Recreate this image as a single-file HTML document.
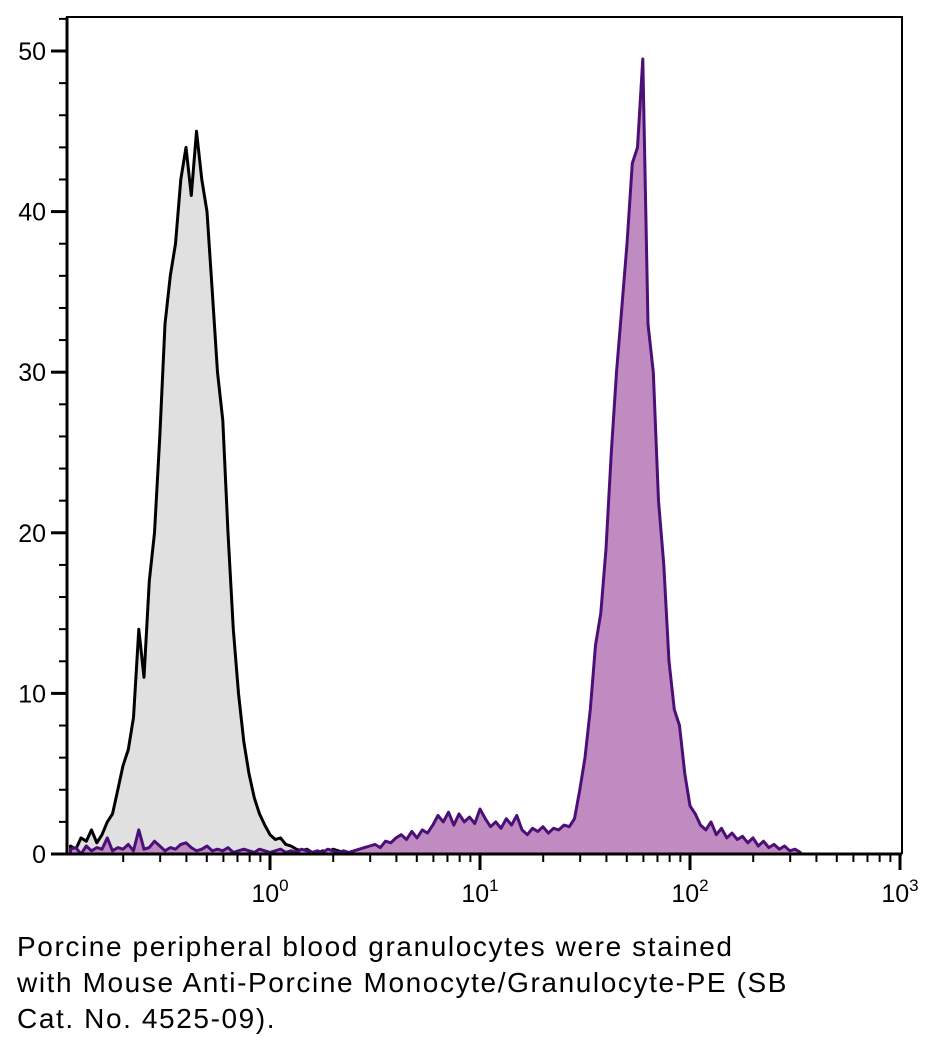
<!DOCTYPE html>
<html><head><meta charset="utf-8"><style>
body{margin:0;background:#fff;width:930px;height:1048px;overflow:hidden;font-family:"Liberation Sans",sans-serif}
#cap{position:absolute;left:17px;top:929px;font-size:28px;letter-spacing:1.6px;line-height:36px;color:#000}
</style></head><body>
<svg id="chart" width="930" height="920" style="position:absolute;left:0;top:0" xmlns="http://www.w3.org/2000/svg"></svg>
<div id="cap">Porcine peripheral blood granulocytes were stained<br>with Mouse Anti-Porcine Monocyte/Granulocyte-PE (SB<br>Cat. No. 4525-09).</div>
<script>
const binStart = -0.95;
const binStep = 0.025;
const grayCounts = [0.5,0.3,1.0,0.8,1.5,0.7,1.2,2.0,2.5,4.0,5.5,6.5,8.5,14,11,17,20,26,33,36,38,42,44,41,45,42,40,35,30,27,20,14,10,7,5,3.5,2.5,1.8,1.2,0.9,1.0,0.6,0.5,0.3,0.2,0.3,0.1,0,0.2,0.1,0.3,0.2,0.1,0,0.1,0,0,0.1,0,0];
const purpleCounts = [0.3,0.4,0,0.5,0.2,0.4,0.3,1.0,0.2,0.4,0.3,0.6,0.2,1.5,0.3,0.4,0.8,0.5,0.2,0.4,0.3,0.6,0.7,0.4,0.2,0.3,0.5,0.2,0.3,0.2,0.4,0.1,0.2,0.3,0.2,0.1,0.3,0.2,0.1,0.2,0.3,0.1,0.2,0.1,0.3,0.2,0.1,0.2,0.1,0.3,0.2,0.1,0.2,0.1,0.2,0.3,0.4,
0.5,0.6,0.4,0.8,0.7,1.0,1.2,0.9,1.4,1.0,1.5,1.3,1.8,2.4,2.0,2.6,1.8,2.5,2.0,2.3,1.9,2.8,2.2,1.7,2.0,1.6,2.2,1.8,2.4,1.5,1.2,1.6,1.4,1.7,1.3,1.6,1.5,1.8,1.7,2.2,4.0,6.0,9.0,13,15,19,25,30,34,38,43,44,49.5,33,30,22,18,12,9,8,5,3,2.5,1.8,1.5,2.0,1.2,1.6,1.0,1.3,0.9,1.1,0.7,1.0,0.5,0.8,0.4,0.6,0.3,0.5,0.2,0.3,0.1];
const yTicks = [0,10,20,30,40,50];
const xDecades = [0,1,2,3];

const NS="http://www.w3.org/2000/svg";
const svg=document.getElementById('chart');
const L=67,R=902,T=17,B=854;
const xs=lg=>270+210*lg;
const ys=v=>B-16.06*v;
function mk(t,a,p){const e=document.createElementNS(NS,t);for(const k in a)e.setAttribute(k,a[k]);(p||svg).appendChild(e);return e;}

function drawHist(counts,fill,stroke,name){
  let d='M'+xs(binStart)+','+B;
  counts.forEach((c,i)=>{d+=' L'+xs(binStart+binStep*i).toFixed(1)+','+ys(c).toFixed(1);});
  d+=' L'+xs(binStart+binStep*(counts.length-1)).toFixed(1)+','+B+' Z';
  const p=mk('path',{d:d,fill:fill,stroke:stroke,'stroke-width':3,'stroke-linejoin':'round'});
  
  
}
drawHist(grayCounts,'#e0e0e0','#000','control-histogram');
drawHist(purpleCounts,'#c08bc0','#4b1078','stained-histogram');

const fr=mk('path',{d:`M${L},${B} L${L},${T} L${R},${T} L${R},${B}`,fill:'none',stroke:'#000','stroke-width':2});


const xa=mk('line',{x1:L-16,x2:R,y1:B,y2:B,stroke:'#000','stroke-width':3});


const ya=mk('line',{x1:L,x2:L,y1:T,y2:B,stroke:'#000','stroke-width':3});



for(let v=2;v<=52;v+=2){ if(v%10) mk('line',{x1:L-8,x2:L,y1:ys(v),y2:ys(v),stroke:'#000','stroke-width':2}); }
yTicks.forEach(v=>{
  mk('line',{x1:L-16,x2:L,y1:ys(v),y2:ys(v),stroke:'#000','stroke-width':3});
  const t=mk('text',{x:L-21,y:ys(v)+9,'text-anchor':'end','font-size':25,'font-family':'Liberation Sans, sans-serif'});
  t.textContent=v;
  
  
});
for(let dcd=-1;dcd<3;dcd++){for(let m=2;m<=9;m++){const x=xs(dcd+Math.log10(m));if(x>L&&x<R)mk('line',{x1:x,x2:x,y1:B,y2:B+8,stroke:'#000','stroke-width':2});}}
xDecades.forEach(dd=>{
  const x=xs(dd);
  mk('line',{x1:x,x2:x,y1:B,y2:B+16,stroke:'#000','stroke-width':3});
  const t=mk('text',{x:x,y:B+48,'text-anchor':'middle','font-size':25,'font-family':'Liberation Sans, sans-serif'});
  t.textContent='10';
  const s=mk('tspan',{dy:-11,'font-size':17},t);s.textContent=dd;
  
  
});
</script>
</body></html>
